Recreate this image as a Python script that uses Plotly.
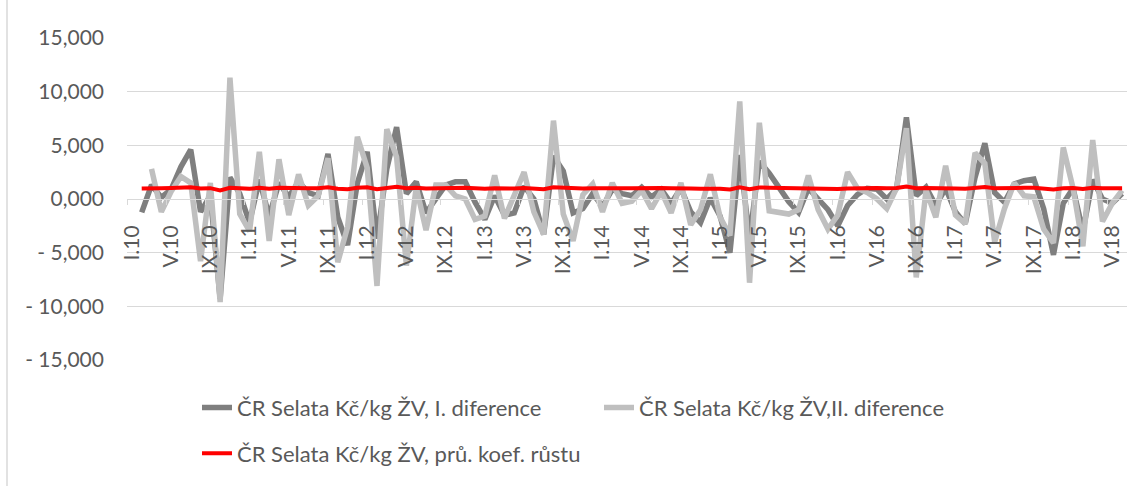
import plotly.graph_objects as go

# Month categories I.10 ... VI.18 (Roman month numeral . two-digit year)
ROMAN = ["I", "II", "III", "IV", "V", "VI", "VII", "VIII", "IX", "X", "XI", "XII"]
months = [f"{r}.{y}" for y in range(10, 19) for r in ROMAN][:102]

# ČR Selata Kč/kg ŽV, I. diference
first_diff = [
    None, -1.25, 1.3, 0.15, 0.9, 3.0, 4.6, -1.2, 0.3, -9.3, 2.0, 0.5,       # 2010
    -2.2, 1.8, -1.6, 1.5, 0.2, 1.6, 0.6, 0.3, 4.2, -1.7, -4.3, 1.5,         # 2011
    4.4, -3.7, 2.8, 6.7, 0.5, 1.6, -1.3, 0.0, 1.3, 1.6, 1.6, -0.3,          # 2012
    -1.9, 0.3, -1.5, -1.3, 1.2, 0.0, -3.3, 4.0, 2.6, -1.3, -0.9, 0.5,       # 2013
    -0.7, 0.9, 0.5, 0.3, 1.1, 0.2, 0.9, -0.4, 1.0, -1.2, -2.2, 0.1,         # 2014
    -1.6, -5.0, 4.1, -3.7, 3.5, 2.4, 1.15, -0.25, -1.25, 1.0, 0.0, -1.0,    # 2015
    -2.5, -0.6, 0.4, 1.0, 0.9, 0.0, 1.0, 7.6, 0.3, 1.1, -0.6, 1.0,          # 2016
    -1.2, -2.3, 2.0, 5.2, 0.6, -0.3, 1.4, 1.7, 1.85, -0.9, -5.2, -0.4,      # 2017
    1.0, -3.0, 1.8, 0.0, -0.4, 0.5,                                         # 2018
]

# ČR Selata Kč/kg ŽV, II. diference
second_diff = [
    None, None, 2.8, -1.2, 0.7, 2.1, 1.5, -5.8, 1.5, -9.6, 11.3, -1.4,
    -3.0, 4.4, -3.9, 3.7, -1.5, 2.3, -0.6, 0.3, 3.8, -5.9, -2.6, 5.8,
    2.9, -8.1, 6.5, 3.9, -6.2, 1.1, -2.9, 1.3, 1.3, 0.3, 0.0, -1.9,
    -1.6, 2.2, -1.8, 0.2, 2.5, -1.2, -3.3, 7.3, -1.4, -3.9, 0.4, 1.4,
    -1.2, 1.5, -0.4, -0.2, 0.8, -0.9, 0.7, -1.3, 1.5, -2.4, -1.0, 2.3,
    -1.7, -3.4, 9.1, -7.8, 7.1, -1.1, -1.25, -1.4, -1.0, 2.2, -1.0, -2.8,
    -1.5, 2.5, 1.0, 0.6, 0.0, -0.9, 1.0, 6.6, -7.3, 0.8, -1.7, 3.1,
    -1.5, -2.3, 4.3, 3.3, -4.0, -0.9, 1.5, 0.3, 0.2, -2.8, -4.1, 4.8,
    1.0, -4.4, 5.5, -2.1, -0.4, 0.8,
]

# ČR Selata Kč/kg ŽV, prů. koef. růstu
growth = [
    None, 0.97, 1.03, 1.00, 1.02, 1.07, 1.10, 0.97, 1.01, 0.80, 1.05, 1.01,
    0.95, 1.04, 0.96, 1.04, 1.00, 1.04, 1.01, 1.01, 1.10, 0.96, 0.90, 1.04,
    1.10, 0.91, 1.07, 1.15, 1.01, 1.04, 0.97, 1.00, 1.03, 1.04, 1.04, 0.99,
    0.95, 1.01, 0.96, 0.97, 1.03, 1.00, 0.92, 1.09, 1.06, 0.97, 0.98, 1.01,
    0.98, 1.02, 1.01, 1.01, 1.03, 1.00, 1.02, 0.99, 1.02, 0.97, 0.95, 1.00,
    0.96, 0.88, 1.10, 0.91, 1.08, 1.05, 1.03, 0.99, 0.97, 1.02, 1.00, 0.97,
    0.94, 0.98, 1.01, 1.02, 1.02, 1.00, 1.02, 1.17, 1.01, 1.03, 0.98, 1.02,
    0.97, 0.95, 1.05, 1.11, 1.01, 0.99, 1.03, 1.04, 1.04, 0.98, 0.88, 0.99,
    1.02, 0.93, 1.04, 1.00, 0.99, 1.01,
]

y_tick_values = [-15, -10, -5, 0, 5, 10, 15]
y_tick_labels = ["- 15,000", "- 10,000", "- 5,000", "0,000", "5,000", "10,000", "15,000"]

series_names = [
    "ČR Selata Kč/kg ŽV, I. diference",
    "ČR Selata Kč/kg ŽV,II. diference",
    "ČR Selata Kč/kg ŽV, prů. koef. růstu",
]

FONT = "Lato, 'Liberation Sans', sans-serif"
TEXT = "#595959"
GRID = "#d9d9d9"

fig = go.Figure()
fig.add_trace(go.Scatter(x=months, y=first_diff, mode="lines", name=series_names[0],
                         line=dict(color="#7f7f7f", width=5.5), legend="legend"))
fig.add_trace(go.Scatter(x=months, y=second_diff, mode="lines", name=series_names[1],
                         line=dict(color="#bfbfbf", width=5.5), legend="legend"))
fig.add_trace(go.Scatter(x=months, y=growth, mode="lines", name=series_names[2],
                         line=dict(color="#ff0000", width=4), legend="legend2"))

fig.update_layout(
    width=1144, height=486,
    margin=dict(l=127, r=17, t=38, b=124, pad=0),
    paper_bgcolor="white", plot_bgcolor="white",
    font=dict(family=FONT, color=TEXT, size=21),
    showlegend=True,
    legend=dict(orientation="h", x=0.07, xanchor="left", y=-0.148, yanchor="middle",
                font=dict(size=22, color=TEXT), entrywidth=357, bgcolor="rgba(0,0,0,0)"),
    legend2=dict(orientation="h", x=0.07, xanchor="left", y=-0.29, yanchor="middle",
                 font=dict(size=22, color=TEXT), bgcolor="rgba(0,0,0,0)"),
    xaxis=dict(
        type="category", range=[-0.5, 101.5],
        anchor="free", position=0.5,
        tickmode="linear", tick0=0, dtick=4,
        tickangle=-90, ticks="outside", ticklen=5, tickcolor=GRID, tickwidth=1,
        tickson="boundaries", ticklabelstandoff=17,
        showline=True, linecolor=GRID, linewidth=1,
        showgrid=False, zeroline=False,
        tickfont=dict(size=21, color=TEXT),
    ),
    yaxis=dict(
        range=[-15, 15], tickmode="array", tickvals=y_tick_values, ticktext=y_tick_labels,
        showgrid=True, gridcolor=GRID, gridwidth=1, zeroline=False, showline=False,
        ticks="", ticklabelstandoff=22, tickfont=dict(size=21, color=TEXT),
    ),
    shapes=[dict(type="line", xref="paper", yref="paper", x0=-0.12, x1=-0.12, y0=-0.5, y1=1.2,
                 line=dict(color=GRID, width=1.5))],
)

fig.write_html("out.html")
